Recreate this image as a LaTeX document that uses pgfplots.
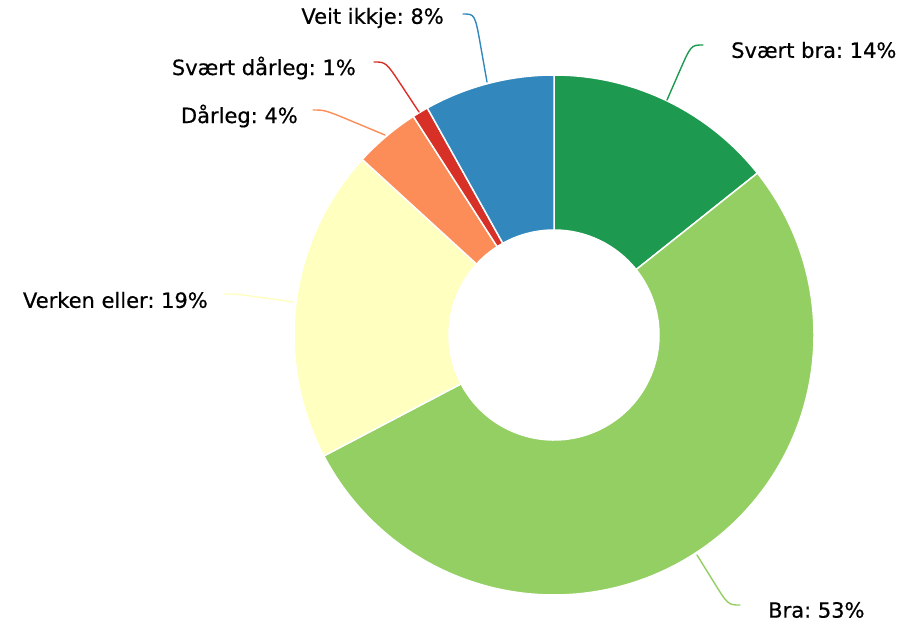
\documentclass[border=0pt]{standalone}
\usepackage{pgfplots}
\usepackage{pgfplotstable}
\pgfplotsset{compat=1.18}
\usepackage{fontspec}
\setmainfont{DejaVu Sans}
\newfontfamily\lblfont[FakeBold=0.5]{DejaVu Sans}

\definecolor{c0}{HTML}{1D9A50}
\definecolor{c1}{HTML}{93CF62}
\definecolor{c2}{HTML}{FFFFC0}
\definecolor{c3}{HTML}{FC8D59}
\definecolor{c4}{HTML}{D73027}
\definecolor{c5}{HTML}{3288BD}

% share in percent, label anchor, label pos, leader start, leader end (pixel grid, y up)
\pgfplotstableread[col sep=comma]{
name,pct,value,anc,lx,ly,sx,sy,ex,ey
Svært bra,14,14.3,west,731,574,667,524,703,579
Bra,53,53.0,west,768,14,697,69,740,19
Verken eller,19,19.5,east,208,324,294,322,224,330
Dårleg,4,4.1,east,298,508,385,489,313,514
Svært dårleg,1,1.0,east,356,556,419,512,374,562
Veit ikkje,8,8.1,east,444,606,487,542,463,610
}\data

\begin{document}
\frenchspacing
\begin{tikzpicture}
\begin{axis}[
    name=ax,
    x=1pt, y=1pt,
    xmin=0, xmax=899,
    ymin=0, ymax=624,
    hide axis,
    clip=false,
]
\def\cx{554}
\def\cy{289}
\def\cum{0}
\pgfplotsforeachungrouped \i in {0,...,5}{
    \pgfplotstablegetelem{\i}{value}\of\data \let\v\pgfplotsretval
    \pgfmathsetmacro\s{90-3.6*\cum}
    \pgfmathsetmacro\e{90-3.6*(\cum+\v)}
    \pgfmathsetmacro\cum{\cum+\v}
    \pgfmathsetmacro\xa{\cx+260*cos(\s)}
    \pgfmathsetmacro\ya{\cy+260*sin(\s)}
    \pgfmathsetmacro\xb{\cx+105*cos(\e)}
    \pgfmathsetmacro\yb{\cy+105*sin(\e)}
    \edef\temp{\noexpand\filldraw[fill=c\i, draw=white, line width=1.5pt]
        (axis cs:\xa,\ya) arc[start angle=\s, end angle=\e, radius=260pt]
        -- (axis cs:\xb,\yb) arc[start angle=\e, end angle=\s, radius=105pt] -- cycle;}
    \temp
}
\pgfplotsforeachungrouped \i in {0,...,5}{
    \pgfplotstablegetelem{\i}{name}\of\data \let\nm\pgfplotsretval
    \pgfplotstablegetelem{\i}{pct}\of\data \let\pc\pgfplotsretval
    \pgfplotstablegetelem{\i}{anc}\of\data \let\an\pgfplotsretval
    \pgfplotstablegetelem{\i}{lx}\of\data \let\lx\pgfplotsretval
    \pgfplotstablegetelem{\i}{ly}\of\data \let\ly\pgfplotsretval
    \pgfplotstablegetelem{\i}{sx}\of\data \let\sx\pgfplotsretval
    \pgfplotstablegetelem{\i}{sy}\of\data \let\sy\pgfplotsretval
    \pgfplotstablegetelem{\i}{ex}\of\data \let\ex\pgfplotsretval
    \pgfplotstablegetelem{\i}{ey}\of\data \let\ey\pgfplotsretval
    \ifdim\ex pt>\sx pt
        \pgfmathsetmacro\kx{\ex-12}
    \else
        \pgfmathsetmacro\kx{\ex+12}
    \fi
    \pgfmathsetmacro\mx{\sx+0.5*(\kx-\sx)}
    \pgfmathsetmacro\my{\sy+0.5*(\ey-\sy)}
    \edef\temp{\noexpand\draw[c\i, line width=1.4pt, line cap=round]
        (axis cs:\sx,\sy) -- (axis cs:\mx,\my) .. controls (axis cs:\kx,\ey) .. (axis cs:\ex,\ey);
        \noexpand\node[anchor=\an, inner sep=0pt, text=black,
            font=\noexpand\lblfont\noexpand\fontsize{21}{25}\noexpand\selectfont]
            at (axis cs:\lx,\ly) {\nm: \pc\noexpand\%};}
    \temp
}
\end{axis}
\pgfresetboundingbox
\path (ax.south west) rectangle (ax.north east);
\end{tikzpicture}
\end{document}
